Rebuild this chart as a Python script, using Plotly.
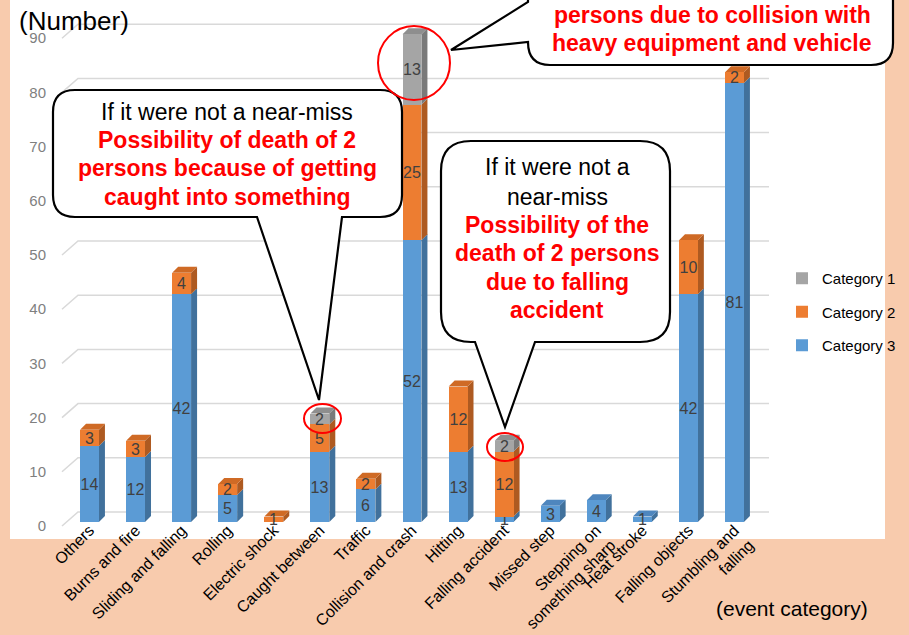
import plotly.graph_objects as go

categories = ["Others", "Burns and fire", "Sliding and falling", "Rolling", "Electric shock",
              "Caught between", "Traffic", "Collision and crash", "Hitting", "Falling accident",
              "Missed step", "Stepping on<br>something sharp", "Heat stroke", "Falling objects",
              "Stumbling and<br>falling"]
cat3 = [14, 12, 42, 5, 0, 13, 6, 52, 13, 1, 3, 4, 1, 42, 81]
cat2 = [3, 3, 4, 2, 1, 5, 2, 25, 12, 12, 0, 0, 0, 10, 2]
cat1 = [0, 0, 0, 0, 0, 2, 0, 13, 0, 2, 0, 0, 0, 0, 0]
y_ticks = [0, 10, 20, 30, 40, 50, 60, 70, 80, 90]

FONT = "Liberation Sans, Arial, sans-serif"
W, H = 909, 635
L, R, T, B = 52, 885, 0, 527
PEACH = "#F8CBAD"

COL3 = ("#5B9BD5", "#41719C", "#4E86BE")
COL2 = ("#ED7D31", "#AE5A21", "#CF6A25")
COL1 = ("#A5A5A5", "#7A7A7A", "#8E8E8E")

# axis mapping (pixels per unit)
PX_X = 46.07
PX_Y = 5.42
x_range = [-(89.5 - L) / PX_X, -(89.5 - L) / PX_X + (R - L) / PX_X]
y_range = [-(B - 522) / PX_Y, 522 / PX_Y]


def xp(px):
    return (px - L) / (R - L)


def yp(py):
    return (B - py) / (B - T)


def P(px, py):
    return f"{xp(px):.5f},{yp(py):.5f}"


xs = list(range(len(categories)))
fig = go.Figure()
for name, vals, cols, rank in [("Category 3", cat3, COL3, 3), ("Category 2", cat2, COL2, 2),
                               ("Category 1", cat1, COL1, 1)]:
    fig.add_trace(go.Bar(
        x=xs, y=vals, name=name, width=0.41,
        marker=dict(color=cols[0], line=dict(width=0)),
        text=[str(v) if v else "" for v in vals],
        textposition="inside", insidetextanchor="middle", constraintext="none",
        textangle=0,
        textfont=dict(family=FONT, size=16, color="#404040"),
        legendgroup=name, legendrank=rank,
        hoverinfo="skip",
    ))

shapes = []
# white chart area
shapes.append(dict(type="rect", xref="paper", yref="paper", x0=xp(10), x1=xp(885), y0=yp(539), y1=1.05,
                   fillcolor="white", line=dict(width=0), layer="below"))

# perspective gridlines
dxw0 = (62 - 89.5) / PX_X
dxw1 = (78 - 89.5) / PX_X
dxe = (769 - 89.5) / PX_X
front_off = -4 / PX_Y
back_off = 10 / PX_Y
for t in y_ticks:
    path = f"M {dxw0},{t + front_off} L {dxw1},{t + back_off} L {dxe},{t + back_off}"
    shapes.append(dict(type="path", xref="x", yref="y", path=path,
                       line=dict(color="#D9D9D9", width=1.5), layer="below"))

# 3D faces for bars
hw = 0.41 / 2
ddx = 6 / PX_X
ddy = 6 / PX_Y
for i in xs:
    base = 0
    top_col = None
    for v, cols in [(cat3[i], COL3), (cat2[i], COL2), (cat1[i], COL1)]:
        if v > 0:
            y0, y1 = base, base + v
            xr = i + hw
            path = f"M {xr},{y0} L {xr + ddx},{y0 + ddy} L {xr + ddx},{y1 + ddy} L {xr},{y1} Z"
            shapes.append(dict(type="path", xref="x", yref="y", path=path,
                               fillcolor=cols[1], line=dict(width=0), layer="below"))
            base = y1
            top_col = cols[2]
    if top_col:
        xl, xr = i - hw, i + hw
        path = f"M {xl},{base} L {xl + ddx},{base + ddy} L {xr + ddx},{base + ddy} L {xr},{base} Z"
        shapes.append(dict(type="path", xref="x", yref="y", path=path,
                           fillcolor=top_col, line=dict(width=0), layer="below"))


def bubble_bottom_tail(l, t, r, b, rad, tl, tr, tip):
    return (f"M {P(l + rad, t)} L {P(r - rad, t)} Q {P(r, t)} {P(r, t + rad)} "
            f"L {P(r, b - rad)} Q {P(r, b)} {P(r - rad, b)} L {P(tr, b)} L {P(*tip)} L {P(tl, b)} "
            f"L {P(l + rad, b)} Q {P(l, b)} {P(l, b - rad)} L {P(l, t + rad)} Q {P(l, t)} {P(l + rad, t)} Z")


bub_line = dict(color="black", width=2.2)
shapes.append(dict(type="path", xref="paper", yref="paper",
                   path=bubble_bottom_tail(53, 90, 402, 217, 22, 257, 342, (319, 400)),
                   fillcolor="white", line=bub_line, layer="above"))
shapes.append(dict(type="path", xref="paper", yref="paper",
                   path=bubble_bottom_tail(441, 141, 670, 342, 30, 475, 535, (505, 427)),
                   fillcolor="white", line=bub_line, layer="above"))
rad = 22
path3 = (f"M {P(528, -40)} L {P(528, 2)} L {P(451, 50)} L {P(528, 42)} Q {P(528, 65)} {P(528 + rad, 65)} "
         f"L {P(893 - rad, 65)} Q {P(893, 65)} {P(893, 65 - rad)} L {P(893, -40)} Z")
shapes.append(dict(type="path", xref="paper", yref="paper", path=path3,
                   fillcolor="white", line=bub_line, layer="above"))

# red circles
for (x0, y0, x1, y1) in [(378, 26, 450, 100), (304, 404, 341, 433), (487, 433, 523, 461)]:
    shapes.append(dict(type="circle", xref="paper", yref="paper",
                       x0=xp(x0), x1=xp(x1), y0=yp(y1), y1=yp(y0),
                       line=dict(color="#FF0000", width=2), layer="above"))

annotations = []


def line_text(txt, cx, cy, red=False, size=23):
    annotations.append(dict(
        x=xp(cx), y=yp(cy), xref="paper", yref="paper", showarrow=False,
        text=f"<b>{txt}</b>" if red else txt, xanchor="center", yanchor="middle",
        font=dict(family=FONT, size=size, color="#FF0000" if red else "black")))


b1 = [("If it were not a near-miss", False, 112), ("Possibility of death of 2", True, 140),
      ("persons because of getting", True, 168), ("caught into something", True, 197)]
for txt, red, y in b1:
    line_text(txt, 227, y, red)
b2 = [("If it were not a", False, 167), ("near-miss", False, 197), ("Possibility of the", True, 225),
      ("death of 2 persons", True, 253), ("due to falling", True, 282), ("accident", True, 310)]
for txt, red, y in b2:
    line_text(txt, 557, y, red)
b3 = [("persons due to collision with", True, 15), ("heavy equipment and vehicle", True, 43)]
for txt, red, y in b3:
    line_text(txt, 712, y, red)

annotations.append(dict(x=xp(17), y=yp(21), xref="paper", yref="paper", showarrow=False,
                        text="(Number)", xanchor="left", yanchor="middle",
                        font=dict(family=FONT, size=26, color="black")))
annotations.append(dict(x=xp(870), y=yp(608), xref="paper", yref="paper", showarrow=False,
                        text="(event category)", xanchor="right", yanchor="middle",
                        font=dict(family=FONT, size=21, color="black")))

fig.update_layout(
    width=W, height=H,
    margin=dict(l=L, r=W - R, t=T, b=H - B, pad=0),
    paper_bgcolor=PEACH, plot_bgcolor="rgba(0,0,0,0)",
    barmode="stack", bargap=0,
    showlegend=True,
    legend=dict(x=xp(782), y=yp(262), xanchor="left", yanchor="top",
                traceorder="grouped", tracegroupgap=11,
                font=dict(family=FONT, size=15, color="black"),
                bgcolor="rgba(0,0,0,0)"),
    xaxis=dict(range=x_range, tickvals=xs, ticktext=categories, tickangle=-45,
               showgrid=False, zeroline=False, showline=False, ticks="", automargin=False,
               ticklabelstandoff=-10,
               tickfont=dict(family=FONT, size=16, color="black"), fixedrange=True),
    yaxis=dict(range=y_range, tickvals=[t + front_off for t in y_ticks], ticktext=[str(t) for t in y_ticks],
               showgrid=False, zeroline=False, showline=False, ticks="", automargin=False,
               ticklabelstandoff=5,
               tickfont=dict(family=FONT, size=15, color="#7F7F7F"), fixedrange=True),
    shapes=shapes, annotations=annotations,
    font=dict(family=FONT),
)

fig.write_html("out.html", config={"displayModeBar": False},
               post_script="document.body.style.margin='0';document.body.style.overflow='hidden';")
